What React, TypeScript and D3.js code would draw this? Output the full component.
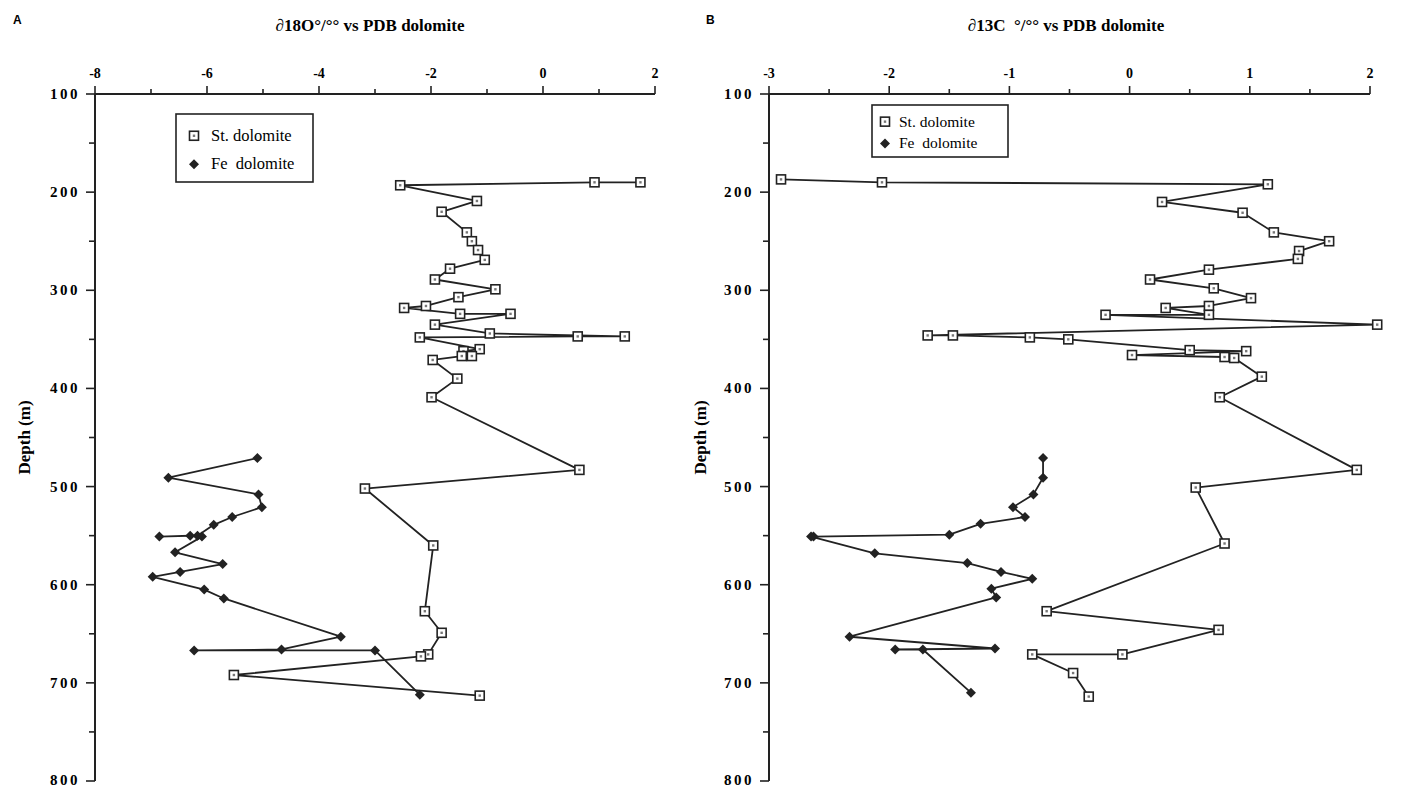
import React from "react";
import * as d3 from "d3";

const W = 1402;
const H = 790;

// Panel A: d18O, standard dolomite (value, depth m)
const stO18 = [1.74, 0.92, -2.55, -1.18, -1.81, -1.36, -1.27, -1.16, -1.04, -1.66, -1.93, -0.85, -1.51, -2.09, -2.48, -1.48, -0.58, -1.93, -0.95, 1.46, 0.62, -2.2, -1.13, -1.42, -1.27, -1.45, -1.97, -1.53, -1.99, 0.65, -3.18, -1.96, -2.11, -1.81, -2.05, -2.18, -5.52, -1.13];
const stDepthA = [190, 190, 193, 209, 220, 241, 250, 259, 269, 278, 289, 299, 307, 316, 318, 324, 324, 335, 344, 347, 347, 348, 360, 362, 367, 367, 371, 390, 409, 483, 502, 560, 627, 649, 671, 673, 692, 713];
// Panel A: d18O, Fe dolomite
const feO18 = [-5.1, -6.69, -5.08, -5.02, -5.55, -5.88, -6.17, -6.85, -6.3, -6.09, -6.57, -5.72, -6.48, -6.97, -6.05, -5.7, -3.61, -4.67, -6.23, -3.0, -2.2];
const feDepthA = [471, 491, 508, 521, 531, 539, 550, 551, 550, 551, 567, 579, 587, 592, 605, 614, 653, 666, 667, 667, 712];

// Panel B: d13C, standard dolomite
const stC13 = [-2.9, -2.06, 1.15, 0.27, 0.94, 1.2, 1.66, 1.41, 1.4, 0.66, 0.17, 0.7, 1.01, 0.66, 0.3, 0.66, -0.2, 2.06, -1.68, -1.47, -0.83, -0.51, 0.5, 0.97, 0.02, 0.79, 0.87, 1.1, 0.75, 1.89, 0.55, 0.79, -0.69, 0.74, -0.06, -0.81, -0.47, -0.34];
const stDepthB = [187, 190, 192, 210, 221, 241, 250, 260, 268, 279, 289, 298, 308, 316, 318, 325, 325, 335, 346, 346, 348, 350, 361, 362, 366, 368, 369, 388, 409, 483, 501, 558, 627, 646, 671, 671, 690, 714];
// Panel B: d13C, Fe dolomite
const feC13 = [-0.72, -0.72, -0.8, -0.97, -0.87, -1.24, -1.5, -2.63, -2.65, -2.12, -1.35, -1.07, -0.81, -1.15, -1.11, -2.33, -1.12, -1.95, -1.72, -1.32];
const feDepthB = [471, 491, 508, 521, 531, 538, 549, 551, 551, 568, 578, 587, 594, 604, 613, 653, 665, 666, 666, 710];

const depthTicks = d3.range(100, 801, 50);
const legendLabels = ["St. dolomite", "Fe  dolomite"];

const serif = "'Liberation Serif', 'DejaVu Serif', serif";

type Pt = [number, number];
const zip = (v: number[], d: number[]): Pt[] => v.map((x, i) => [x, d[i]]);

function StMark({ x, y }: { x: number; y: number }) {
  return (
    <g>
      <rect x={x - 4.5} y={y - 4.5} width={9} height={9} fill="#fff" stroke="#222" strokeWidth={1.6} />
      <rect x={x - 1.2} y={y - 1.2} width={2.4} height={2.4} fill="#777" />
    </g>
  );
}

function FeMark({ x, y }: { x: number; y: number }) {
  const r = 5;
  return <path d={`M${x},${y - r}L${x + r},${y}L${x},${y + r}L${x - r},${y}Z`} fill="#222" />;
}

interface PanelProps {
  letter: string;
  title: string;
  titleX: number;
  letterX: number;
  x0: number;
  x1: number;
  domain: [number, number];
  minorStep: number;
  majorStep: number;
  st: Pt[];
  fe: Pt[];
  legend: { x: number; y: number; w: number; h: number; mx: number; tx: number; fs: number };
  depthLabelX: number;
}

function Panel(p: PanelProps) {
  const xs = d3.scaleLinear().domain(p.domain).range([p.x0, p.x1]);
  const ys = d3.scaleLinear().domain([100, 800]).range([94, 781]);
  const line = d3
    .line<Pt>()
    .x((d) => xs(d[0]))
    .y((d) => ys(d[1]));
  const xTicks = d3.range(p.domain[0], p.domain[1] + 1e-6, p.minorStep);
  const isMajor = (v: number) => Math.abs(v / p.majorStep - Math.round(v / p.majorStep)) < 1e-6;
  const lg = p.legend;

  return (
    <g>
      <text x={p.letterX} y={24} fontFamily="'Liberation Sans', Arial, sans-serif" fontWeight="bold" fontSize={12}>
        {p.letter}
      </text>
      <text
        x={p.titleX}
        y={31}
        textAnchor="middle"
        fontFamily={serif}
        fontWeight="bold"
        fontSize={17}
        style={{ whiteSpace: "pre" }}
      >
        {p.title}
      </text>

      {/* top axis */}
      <line x1={p.x0} x2={p.x1} y1={ys(100)} y2={ys(100)} stroke="#222" strokeWidth={2} />
      {xTicks.map((v) => (
        <g key={v}>
          <line x1={xs(v)} x2={xs(v)} y1={ys(100)} y2={ys(100) - (isMajor(v) ? 8 : 5)} stroke="#222" strokeWidth={1.6} />
          {isMajor(v) && (
            <text x={xs(v)} y={ys(100) - 16} textAnchor="middle" fontFamily={serif} fontWeight="bold" fontSize={14}>
              {d3.format("d")(v).replace("\u2212", "-")}
            </text>
          )}
        </g>
      ))}

      {/* left axis */}
      <line x1={p.x0} x2={p.x0} y1={ys(100)} y2={ys(800)} stroke="#222" strokeWidth={2} />
      {depthTicks.map((d) => (
        <g key={d}>
          <line x1={p.x0 - (d % 100 === 0 ? 9 : 6)} x2={p.x0} y1={ys(d)} y2={ys(d)} stroke="#222" strokeWidth={1.6} />
          {d % 100 === 0 && (
            <text
              x={p.x0 - 15}
              y={ys(d) + (d === 800 ? 4 : 5)}
              textAnchor="end"
              fontFamily={serif}
              fontWeight="bold"
              fontSize={15}
              letterSpacing={2.5}
            >
              {d}
            </text>
          )}
        </g>
      ))}
      <text
        transform={`translate(${p.depthLabelX},${ys(450)}) rotate(-90)`}
        textAnchor="middle"
        fontFamily={serif}
        fontWeight="bold"
        fontSize={17}
      >
        Depth (m)
      </text>

      {/* series */}
      <path d={line(p.st) || ""} fill="none" stroke="#222" strokeWidth={1.8} strokeLinejoin="round" />
      <path d={line(p.fe) || ""} fill="none" stroke="#222" strokeWidth={1.8} strokeLinejoin="round" />
      {p.st.map((d, i) => (
        <StMark key={"s" + i} x={xs(d[0])} y={ys(d[1])} />
      ))}
      {p.fe.map((d, i) => (
        <FeMark key={"f" + i} x={xs(d[0])} y={ys(d[1])} />
      ))}

      {/* legend */}
      <rect x={lg.x} y={lg.y} width={lg.w} height={lg.h} fill="#fff" stroke="#222" strokeWidth={1.6} />
      <StMark x={lg.x + lg.mx} y={lg.y + lg.h * 0.32} />
      <FeMark x={lg.x + lg.mx} y={lg.y + lg.h * 0.74} />
      {legendLabels.map((t, i) => (
        <text
          key={t}
          x={lg.x + lg.tx}
          y={lg.y + lg.h * (i === 0 ? 0.32 : 0.74) + 5}
          fontFamily={serif}
          fontSize={lg.fs}
          style={{ whiteSpace: "pre" }}
        >
          {t}
        </text>
      ))}
    </g>
  );
}

export default function App() {
  return (
    <svg
      width={W}
      height={H}
      style={{ position: "absolute", left: 0, top: 0, background: "#fff" }}
    >
      <rect width={W} height={H} fill="#fff" />
      <Panel
        letter="A"
        title={"\u221218O\u00b0/\u00b0\u00b0 vs PDB dolomite".replace("\u2212", "\u2202")}
        titleX={370}
        letterX={13}
        x0={95}
        x1={655}
        domain={[-8, 2]}
        minorStep={1}
        majorStep={2}
        st={zip(stO18, stDepthA)}
        fe={zip(feO18, feDepthA)}
        legend={{ x: 176, y: 114, w: 137, h: 68, mx: 18, tx: 35, fs: 16.5 }}
        depthLabelX={30}
      />
      <Panel
        letter="B"
        title={"\u220213C  \u00b0/\u00b0\u00b0 vs PDB dolomite"}
        titleX={1066}
        letterX={706}
        x0={769}
        x1={1370}
        domain={[-3, 2]}
        minorStep={0.5}
        majorStep={1}
        st={zip(stC13, stDepthB)}
        fe={zip(feC13, feDepthB)}
        legend={{ x: 872, y: 105, w: 136, h: 52, mx: 13, tx: 27, fs: 15.5 }}
        depthLabelX={706}
      />
    </svg>
  );
}
